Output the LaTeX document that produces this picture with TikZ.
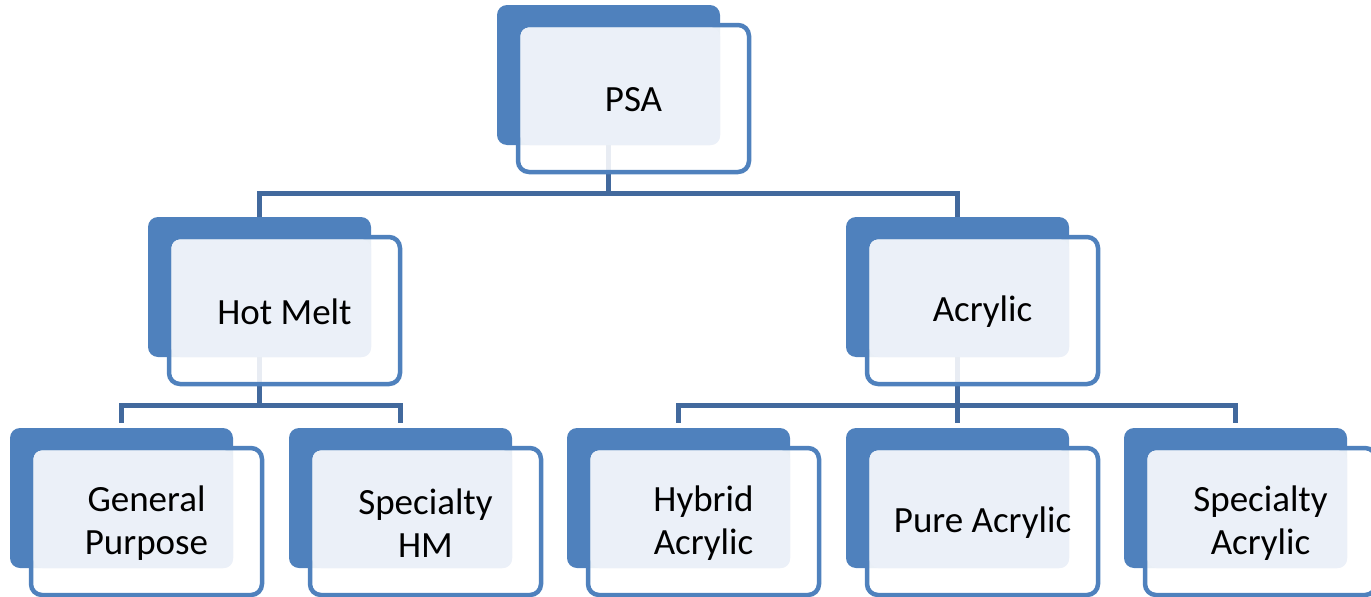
\documentclass[tikz,border=0pt]{standalone}
\usepackage{fontspec}
\setmainfont{Carlito}
\usetikzlibrary{backgrounds,calc}
\definecolor{darkblue}{HTML}{4F81BD}
\definecolor{lightfill}{HTML}{EBF0F8}
\definecolor{linkblue}{HTML}{42699D}
\tikzset{
  backbox/.style={rectangle, rounded corners=10pt, fill=darkblue, minimum width=223pt, minimum height=140pt, inner sep=0pt},
  frontbox/.style={rectangle, rounded corners=11pt, draw=darkblue, line width=4.5pt, fill=white, fill opacity=0.88, text opacity=1, minimum width=231pt, minimum height=147pt, inner sep=0pt},
  label/.style={font=\fontsize{37}{43}\selectfont, align=center, text=black},
  link/.style={draw=linkblue, line width=5pt},
}
\newcommand\orgbox[4]{%
  \node[backbox] (#1b) at (#2+111.5,#3+70) {};
  \node[frontbox] (#1) at (#2+136.5,#3+93.5) {};
  \fill[lightfill, rounded corners=9pt] (#2+23.5,#3+22.5) rectangle (#2+223,#3+140);
  \node[label] (#1t) at ($(#1)+(0,1.5)$) {#4};
}
\begin{document}
\begin{tikzpicture}[x=1pt,y=-1pt]
\useasboundingbox (0,0) rectangle (1371,597);
\orgbox{psa}{497}{5}{PSA}
\orgbox{hm}{148}{217}{Hot Melt}
\orgbox{ac}{846}{217}{Acrylic}
\orgbox{gp}{10}{428}{General\\Purpose}
\orgbox{shm}{289}{428}{Specialty\\HM}
\orgbox{ha}{567}{428}{Hybrid\\Acrylic}
\orgbox{pa}{846}{428}{Pure Acrylic}
\orgbox{sa}{1124}{428}{Specialty\\Acrylic}
\begin{scope}[on background layer]
  \draw[link] (psab.south) -- ++(0,48) -| (hmb.north);
  \draw[link] (psab.south) -- ++(0,48) -| (acb.north);
  \draw[link, shorten >=5pt] (hmb.south) -- ++(0,48) -| (gpb.north);
  \draw[link, shorten >=5pt] (hmb.south) -- ++(0,48) -| (shmb.north);
  \draw[link, shorten >=5pt] (acb.south) -- ++(0,48) -| (hab.north);
  \draw[link, shorten >=5pt] (acb.south) -- ++(0,48) -| (pab.north);
  \draw[link, shorten >=5pt] (acb.south) -- ++(0,48) -| (sab.north);
\end{scope}
\end{tikzpicture}
\end{document}
